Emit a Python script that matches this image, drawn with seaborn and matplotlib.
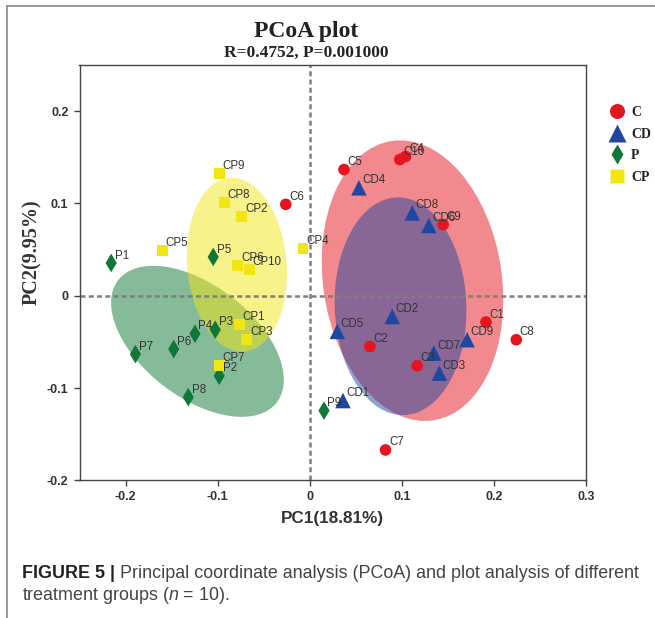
import numpy as np
import pandas as pd
import matplotlib
matplotlib.use("Agg")
import matplotlib.pyplot as plt
import seaborn as sns
from matplotlib.patches import Ellipse
from matplotlib.lines import Line2D
from matplotlib import font_manager

# ---------------- data ----------------
groups = ["C", "CD", "P", "CP"]

c_names = ["C1", "C2", "C3", "C4", "C5", "C6", "C7", "C8", "C9", "C10"]
c_x = [0.1914, 0.0653, 0.1167, 0.1040, 0.0372, -0.0260, 0.0823, 0.2243, 0.1449, 0.0978]
c_y = [-0.0285, -0.0550, -0.0759, 0.1508, 0.1367, 0.0990, -0.1671, -0.0477, 0.0770, 0.1476]

cd_names = ["CD1", "CD2", "CD3", "CD4", "CD5", "CD6", "CD7", "CD8", "CD9"]
cd_x = [0.0361, 0.0896, 0.1408, 0.0534, 0.0300, 0.1293, 0.1347, 0.1113, 0.1709]
cd_y = [-0.1136, -0.0225, -0.0839, 0.1169, -0.0387, 0.0760, -0.0622, 0.0897, -0.0477]

p_names = ["P1", "P2", "P3", "P4", "P5", "P6", "P7", "P8", "P9"]
p_x = [-0.2156, -0.0983, -0.1026, -0.1246, -0.1048, -0.1477, -0.1893, -0.1319, 0.0155]
p_y = [0.0355, -0.0868, -0.0369, -0.0412, 0.0420, -0.0578, -0.0633, -0.1099, -0.1245]

cp_names = ["CP1", "CP2", "CP3", "CP4", "CP5", "CP6", "CP7", "CP8", "CP9", "CP10"]
cp_x = [-0.0766, -0.0737, -0.0686, -0.0073, -0.1603, -0.0783, -0.0983, -0.0929, -0.0983, -0.0658]
cp_y = [-0.0315, 0.0854, -0.0470, 0.0510, 0.0492, 0.0325, -0.0757, 0.1006, 0.1320, 0.0282]

# confidence ellipses per group (C, CD, P, CP)
ell_cx = [0.1116, 0.0986, -0.1219, -0.0791]
ell_cy = [0.0163, -0.0114, -0.0494, 0.0336]
ell_major = [0.306, 0.236, 0.2174, 0.189]
ell_minor = [0.194, 0.143, 0.1214, 0.108]
ell_angle = [98.5, 92.0, -37.5, 95.0]

x_ticks = [-0.2, -0.1, 0.0, 0.1, 0.2, 0.3]
x_tick_labels = ["-0.2", "-0.1", "0", "0.1", "0.2", "0.3"]
y_ticks = [-0.2, -0.1, 0.0, 0.1, 0.2]
y_tick_labels = ["-0.2", "-0.1", "0", "0.1", "0.2"]

title = "PCoA plot"
subtitle = "R=0.4752, P=0.001000"
x_label = "PC1(18.81%)"
y_label = "PC2(9.95%)"
caption_bold = "FIGURE 5 | "
caption_1 = "Principal coordinate analysis (PCoA) and plot analysis of different"
caption_2 = r"treatment groups ($n$ = 10)."

# ---------------- styling ----------------
colors = {"C": "#E6141E", "CD": "#1F47A0", "P": "#0F7837", "CP": "#F0E614"}
markers = {"C": "o", "CD": "^", "P": "d", "CP": "s"}
sizes = {"C": 70, "CD": 125, "P": 90, "CP": 62}

SANS = "Liberation Sans"
SERIF = "Liberation Serif"
avail = {f.name for f in font_manager.fontManager.ttflist}
CAP = "Liberation Sans Narrow" if "Liberation Sans Narrow" in avail else SANS

plt.rcParams["font.family"] = [SANS, "DejaVu Sans"]
plt.rcParams["mathtext.fontset"] = "custom"
plt.rcParams["mathtext.it"] = CAP + ":italic"
plt.rcParams["mathtext.rm"] = CAP

df = pd.DataFrame({
    "name": c_names + cd_names + p_names + cp_names,
    "PC1": c_x + cd_x + p_x + cp_x,
    "PC2": c_y + cd_y + p_y + cp_y,
    "group": ["C"] * len(c_names) + ["CD"] * len(cd_names) + ["P"] * len(p_names) + ["CP"] * len(cp_names),
})

W, H = 655, 618
fig = plt.figure(figsize=(W / 100, H / 100), dpi=100)
ax = fig.add_axes([79.5 / W, 1 - 480.3 / H, (586 - 79.5) / W, (480.3 - 65) / H])

# ellipses
for g, cx, cy, w, h, a in zip(groups, ell_cx, ell_cy, ell_major, ell_minor, ell_angle):
    ax.add_patch(Ellipse((cx, cy), w, h, angle=a, facecolor=colors[g], alpha=0.5,
                         edgecolor="none", zorder=1))

# zero lines
ax.axhline(0, color="#7f7f7f", lw=1.8, ls=(0, (2, 1.3)), zorder=2)
ax.axvline(0, color="#7f7f7f", lw=1.8, ls=(0, (2, 1.3)), zorder=2)

sns.scatterplot(data=df, x="PC1", y="PC2", hue="group", style="group", size="group",
                palette=colors, markers=markers, sizes=sizes, hue_order=groups,
                style_order=groups, size_order=groups, linewidth=0, legend=False,
                ax=ax, zorder=3)

for n, x, y in zip(df["name"], df["PC1"], df["PC2"]):
    ax.annotate(n, (x, y), xytext=(2.5, 3.2), textcoords="offset points",
                ha="left", va="baseline", fontsize=8.3, color="#333333",
                family=SANS, zorder=4)

ax.set_xlim(-0.25, 0.3)
ax.set_ylim(-0.2, 0.25)
ax.set_xticks(x_ticks)
ax.set_xticklabels(x_tick_labels)
ax.set_yticks(y_ticks)
ax.set_yticklabels(y_tick_labels)
ax.tick_params(direction="out", length=4, width=1, color="#444444", pad=4,
               labelsize=9, labelcolor="#333333")
for lab in ax.get_xticklabels() + ax.get_yticklabels():
    lab.set_fontweight("bold")
for s in ax.spines.values():
    s.set_color("#444444")
    s.set_linewidth(1.0)

ax.set_xlabel(x_label, fontsize=12.3, fontweight="bold", color="#333333", family=SANS)
ax.xaxis.set_label_coords((332 - 79.5) / (586 - 79.5), -(519 - 480.3) / (480.3 - 65))
ax.set_ylabel(y_label, fontsize=14.5, fontweight="bold", color="#333333", family=SERIF)
ax.yaxis.set_label_coords((31.7 - 79.5) / (586 - 79.5), (480.3 - 252) / (480.3 - 65))
ax.xaxis.label.set_va("center")
ax.yaxis.label.set_va("center")

# titles
fig.text(306 / W, 1 - 31 / H, title, ha="center", va="center", fontsize=17,
         fontweight="bold", family=SERIF, color="#222222")
fig.text(306 / W, 1 - 53 / H, subtitle, ha="center", va="center", fontsize=12.5,
         fontweight="bold", family=SERIF, color="#222222")

# legend
handles = [Line2D([], [], ls="none", marker="o", markersize=10.8, color=colors["C"], mec="none"),
           Line2D([], [], ls="none", marker="^", markersize=13, color=colors["CD"], mec="none"),
           Line2D([], [], ls="none", marker="d", markersize=10.2, color=colors["P"], mec="none"),
           Line2D([], [], ls="none", marker="s", markersize=10, color=colors["CP"], mec="none")]
leg = fig.legend(handles, groups, loc="upper left", bbox_to_anchor=(608.4 / W, 1 - 106 / H),
                 frameon=False, borderpad=0, borderaxespad=0, handlelength=1.2,
                 handletextpad=0.43, labelspacing=0.62,
                 prop={"family": SERIF, "weight": "bold", "size": 10})
for t in leg.get_texts():
    t.set_color("#222222")

# frame
fig.add_artist(Line2D([7.3 / W, 7.3 / W], [0, 1 - 5.7 / H], transform=fig.transFigure,
                      color="#8a8a8a", lw=1.2))
fig.add_artist(Line2D([7.3 / W, 1], [1 - 5.7 / H, 1 - 5.7 / H], transform=fig.transFigure,
                      color="#8a8a8a", lw=1.2))

# caption
fig.canvas.draw()
r = fig.canvas.get_renderer()
fs = 11.0
tb = fig.text(22 / W, 1 - 573 / H, caption_bold, fontsize=fs, fontweight="bold",
              family=CAP, color="#222222", va="center")
tr = fig.text(0, 1 - 573 / H, caption_1, fontsize=fs, family=CAP, color="#444444", va="center")
wb = tb.get_window_extent(r).width
wr = tr.get_window_extent(r).width
fs = fs * 615 / (wb + wr)
tb.set_fontsize(fs)
tr.set_fontsize(fs)
wb = tb.get_window_extent(r).width
tr.set_x((22 + wb) / W)
fig.text(22 / W, 1 - 595 / H, caption_2, fontsize=fs, family=CAP, color="#444444", va="center")

fig.savefig("out.png", dpi=100)
